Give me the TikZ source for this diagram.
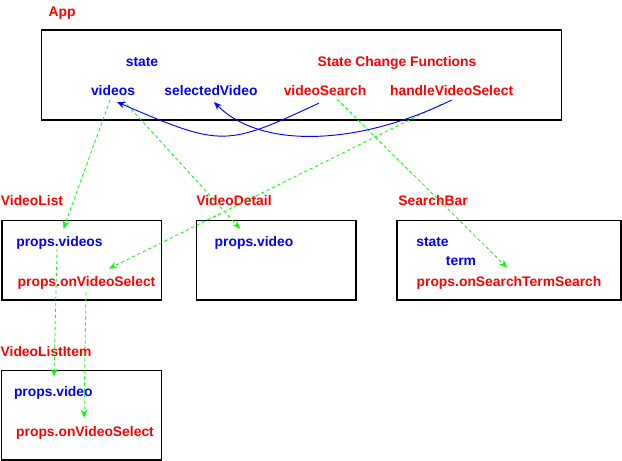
\documentclass[tikz,border=0pt]{standalone}
\usepackage{fontspec}
\setmainfont{Liberation Sans}
\usetikzlibrary{positioning}
\usetikzlibrary{arrows.meta}
\usetikzlibrary{calc}
\tikzset{
    mybox/.style = {rectangle, draw=black, line width=0.8pt, inner sep=0pt},
    mytextr/.style = {inner sep=1pt, text height=7.5pt, text depth=2.2pt, font=\bfseries\fontsize{10.4}{12}\selectfont, text=red},
    mytextb/.style = {inner sep=1pt, text height=7.5pt, text depth=2.2pt, font=\bfseries\fontsize{10.4}{12}\selectfont, text=blue},
    edgeb/.style = {-{Stealth[length=6pt,width=5pt]}, line width=0.7pt, blue}, % setter back to state
    edgegd/.style = {-{Stealth[length=6pt,width=5pt]}, line width=0.6pt, green, dash pattern=on 2.5pt off 2pt}, % passed as props
}

\begin{document}
\begin{tikzpicture}[x=0.75pt,y=-0.75pt]
\useasboundingbox (0,0) rectangle (622,461);
% App
\node[mybox, minimum width=390pt, minimum height=67.5pt] at (301.5,75) (app) {};
\node[mytextr] at (62,13) (applbl) {App};
\node[mytextb] at (142,63) (state) {state};
\node[mytextr] at (397,63) (scf) {State Change Functions};
\node[mytextb] at (113,92) (videos) {videos};
\node[mytextb] at (211,92) (selvid) {selectedVideo};
\node[mytextr] at (325,92) (vidsearch) {videoSearch};
\node[mytextr] at (451.6,92) (hvs) {handleVideoSelect};
%
% children
\node[mybox, minimum width=119.6pt, minimum height=59.5pt] at (81.75,260.3) (vlist) {};
\node[mybox, minimum width=119.7pt, minimum height=59.5pt] at (276.2,260.3) (vdetail) {};
\node[mybox, minimum width=168pt, minimum height=59.5pt] at (509,260.3) (sbar) {};
\node[mytextr] at (32,202) (vlistlbl) {VideoList};
\node[mytextr] at (234,202) (vdetaillbl) {VideoDetail};
\node[mytextr] at (433,202) (sbarlbl) {SearchBar};
\node[mytextb] at (59.5,242.7) (pvideos) {props.videos};
\node[mytextr] at (86.5,282.7) (ponsel) {props.onVideoSelect};
\node[mytextb] at (254,242.7) (pvideo) {props.video};
\node[mytextb] at (432.5,242.7) (sbstate) {state};
\node[mytextb] at (461,262) (sbterm) {term};
\node[mytextr] at (509,282.7) (ponsts) {props.onSearchTermSearch};
%
% grandchild
\node[mybox, minimum width=120pt, minimum height=67pt] at (81.7,415.3) (vitem) {};
\node[mytextr] at (46,352.7) (vitemlbl) {VideoListItem};
\node[mytextb] at (53.3,392.7) (pvideoi) {props.video};
\node[mytextr] at (85,432.7) (ponseli) {props.onVideoSelect};
%
\draw[edgegd] ($(videos.south)+(-3,0)$) -- ($(pvideos.north)+(4,-6)$);
\draw[edgegd] ($(videos.south)+(10,0)$) -- ($(pvideo.north)+(-14,-6)$);
\draw[edgegd] ($(hvs.south)+(-10,4)$) -- ($(ponsel.north)+(22.5,-6)$);
\draw[edgegd] ($(vidsearch.south)+(12,-1)$) -- ($(ponsts.north)+(-2,-7)$);
\draw[edgegd] ($(pvideos.south)+(-2.5,-2)$) -- ($(pvideoi.north)+(0.7,-8)$);
\draw[edgegd] ($(ponsel.south)+(-0.5,1.5)$) -- ($(ponseli.north)+(-1,-7)$);
%
\draw[edgeb] ($(vidsearch.south)+(-6,3)$) .. controls (225,147) and (222,147) .. ($(videos.south)+(4,2)$);
\draw[edgeb] (hvs.south) .. controls (360,145) and (262,150) .. ($(selvid.south)+(3,2)$);

\end{tikzpicture}
\end{document}
